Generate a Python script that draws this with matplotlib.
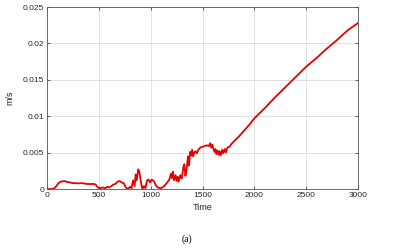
import matplotlib
matplotlib.use("Agg")
import matplotlib.pyplot as plt

t = [0, 50, 70, 90, 110, 130, 150, 170, 190, 220, 260, 300, 340, 380, 420, 450, 470, 490,
     510, 540, 560, 580, 600, 620, 640, 660, 680, 700, 720, 740, 760, 780, 800, 815, 830,
     845, 855, 865, 880, 890, 900, 910, 920, 935, 950, 965, 980, 995, 1010, 1030, 1050,
     1070, 1100, 1130, 1160, 1180, 1195, 1205, 1215, 1225, 1240, 1250, 1260, 1270, 1285,
     1300, 1315, 1325, 1335, 1345, 1360, 1370, 1380, 1390, 1400, 1410, 1420, 1430, 1445,
     1460, 1480, 1500, 1520, 1540, 1560, 1575, 1585, 1595, 1605, 1615, 1625, 1635, 1645,
     1655, 1665, 1675, 1690, 1700, 1715, 1725, 1740, 1760, 1780, 1800, 1850, 1900, 1950,
     2000, 2100, 2200, 2300, 2400, 2500, 2600, 2700, 2800, 2900, 3000]
v = [0, 0, 0.0001, 0.0004, 0.0008, 0.0010, 0.00105, 0.0011, 0.00098, 0.0009, 0.0008,
     0.00078, 0.0008, 0.0007, 0.00068, 0.0007, 0.0006, 0.0002, 0.0001, 0.0002, 0.0001,
     0.0003, 0.0002, 0.0004, 0.0006, 0.0007, 0.0010, 0.0011, 0.0009, 0.0008, 0.0002, 0.0,
     0.0003, 0.0001, 0.0012, 0.0004, 0.0020, 0.0012, 0.0027, 0.0024, 0.0015, 0.0006, 0.0,
     0.0004, 0.0001, 0.0012, 0.0013, 0.0009, 0.0013, 0.0011, 0.0005, 0.0002, 0.0001,
     0.0004, 0.0009, 0.0013, 0.0021, 0.0015, 0.0024, 0.0012, 0.0019, 0.0011, 0.0017,
     0.0010, 0.0019, 0.0014, 0.0030, 0.0034, 0.0018, 0.0025, 0.0045, 0.0032, 0.0051,
     0.0046, 0.0054, 0.0045, 0.0050, 0.0052, 0.0049, 0.0054, 0.0057, 0.0058, 0.0059,
     0.0060, 0.0059, 0.0063, 0.0057, 0.0061, 0.0055, 0.0051, 0.0055, 0.0048, 0.0053,
     0.0047, 0.0052, 0.0046, 0.0054, 0.0049, 0.0055, 0.0050, 0.0057, 0.0058, 0.0062,
     0.0065, 0.0072, 0.0080, 0.0088, 0.0097, 0.0111, 0.0126, 0.0140, 0.0154, 0.0168,
     0.0180, 0.0193, 0.0205, 0.0218, 0.0228]

xticks = [0, 500, 1000, 1500, 2000, 2500, 3000]
yticks = [0, 0.005, 0.01, 0.015, 0.02, 0.025]
ylabels = ["0", "0.005", "0.01", "0.015", "0.02", "0.025"]

plt.rcParams['font.family'] = ['Liberation Sans', 'DejaVu Sans']
fig = plt.figure(figsize=(4.02, 2.52), dpi=100)
ax = fig.add_axes([0.117, 0.25, 0.7735, 0.722])
ax.plot(t, v, color='#e60000', lw=1.3)
ax.set_xlim(0, 3000)
ax.set_ylim(0, 0.025)
ax.set_xticks(xticks)
ax.set_xticklabels([str(x) for x in xticks])
ax.set_yticks(yticks)
ax.set_yticklabels(ylabels)
ax.grid(True, color='#dcdcdc', lw=0.6)
ax.set_axisbelow(True)
ax.tick_params(direction='in', length=2, width=0.5, labelsize=6, colors='#262626',
               pad=2, top=True, right=True)
for s in ax.spines.values():
    s.set_color('#555555')
    s.set_linewidth(0.6)
ax.set_xlabel('Time', fontsize=6.5, color='#262626', labelpad=3)
ax.set_ylabel('m/s', fontsize=6.5, color='#262626', labelpad=6)
fig.text(0.465, 0.05, '(a)', fontsize=7, family='Liberation Serif', ha='center', va='center')
fig.savefig('out.png', dpi=100)
